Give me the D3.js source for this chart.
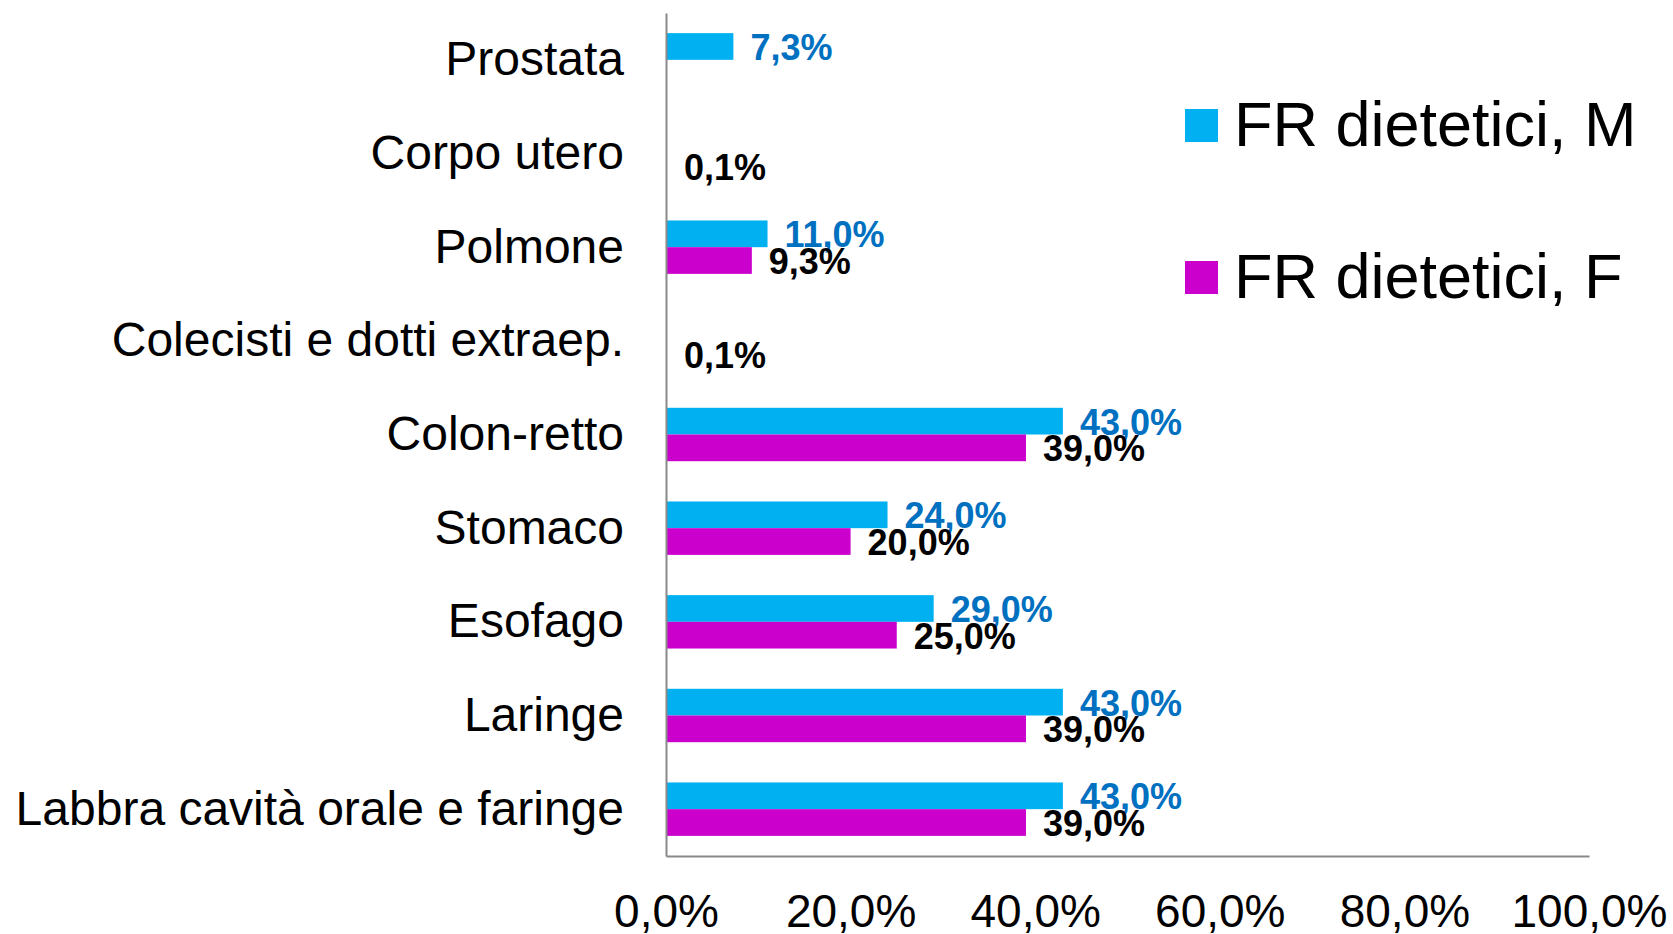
<!DOCTYPE html>
<html>
<head>
<meta charset="utf-8">
<script src="https://cdn.jsdelivr.net/npm/d3@7"></script>
<style>
  body { margin: 0; background: #fff; }
  svg { display: block; font-family: "Liberation Sans", Arial, sans-serif; }
</style>
</head>
<body>
<div id="vis-container"></div>
<script>
// ------------------------------ DATA ------------------------------ //
const categories = [
  "Prostata", "Corpo utero", "Polmone", "Colecisti e dotti extraep.",
  "Colon-retto", "Stomaco", "Esofago", "Laringe", "Labbra cavità orale e faringe"
];
const seriesNames = ["FR dietetici, M", "FR dietetici, F"];
const valuesM = [7.3, null, 11.0, null, 43.0, 24.0, 29.0, 43.0, 43.0];
const valuesF = [null, 0.1, 9.3, 0.1, 39.0, 20.0, 25.0, 39.0, 39.0];
const xTicks = [0, 20, 40, 60, 80, 100];

// ------------------------------ SET UP ------------------------------ //
const width = 1673;
const height = 934;
const margin = { top: 13, right: 84, bottom: 78, left: 666 };
const colors = ["#00B0F0", "#CC00CC"];
const labelColors = ["#0070C0", "#000000"];
const axisColor = "#898989";

const svg = d3.select("#vis-container")
  .append("svg")
  .attr("width", width)
  .attr("height", height);

const fmt = (v) => v.toFixed(1).replace(".", ",") + "%";

// Scales
const xScale = d3.scaleLinear()
  .domain([0, 100])
  .range([margin.left, width - margin.right]);

const yScale = d3.scaleBand()
  .domain(categories)
  .range([margin.top, height - margin.bottom])
  .padding(0);

const barH = 26.7;
const ySub = d3.scaleBand()
  .domain(seriesNames)
  .range([yScale.bandwidth() / 2 - barH, yScale.bandwidth() / 2 + barH]);

// Flatten values into rows (skip missing series)
const rows = [];
categories.forEach((c, i) => {
  [valuesM[i], valuesF[i]].forEach((v, s) => {
    if (v !== null) rows.push({ cat: c, series: seriesNames[s], s: s, value: v });
  });
});

// Bars
svg.append("g")
  .selectAll("rect")
  .data(rows)
  .enter()
  .append("rect")
  .attr("x", xScale(0))
  .attr("y", (d) => yScale(d.cat) + ySub(d.series))
  .attr("width", (d) => xScale(d.value) - xScale(0))
  .attr("height", ySub.bandwidth())
  .attr("fill", (d) => colors[d.s]);

// Data labels
svg.append("g")
  .selectAll("text")
  .data(rows)
  .enter()
  .append("text")
  .attr("x", (d) => xScale(d.value) + 17)
  .attr("y", (d) => yScale(d.cat) + ySub(d.series) + ySub.bandwidth() / 2 + 1)
  .attr("dy", "0.35em")
  .attr("font-size", "36px")
  .attr("font-weight", "bold")
  .attr("fill", (d) => labelColors[d.s])
  .text((d) => fmt(d.value));

// Axes
svg.append("g")
  .attr("transform", `translate(0,${height - margin.bottom})`)
  .call(d3.axisBottom(xScale).tickValues(xTicks).tickSize(0).tickPadding(38).tickFormat(fmt))
  .call((g) => g.select(".domain").attr("stroke", axisColor).attr("stroke-width", 2))
  .selectAll("text")
  .attr("font-size", "46px")
  .attr("fill", "#000");

svg.append("g")
  .attr("transform", `translate(${margin.left},0)`)
  .call(d3.axisLeft(yScale).tickSize(0).tickPadding(42))
  .call((g) => g.select(".domain").attr("stroke", axisColor).attr("stroke-width", 2))
  .selectAll("text")
  .attr("font-size", "48px")
  .attr("fill", "#000");

// Legend
const legend = svg.append("g")
  .selectAll("g")
  .data(seriesNames)
  .enter()
  .append("g")
  .attr("transform", (d, i) => `translate(1185,${109 + i * 152})`);

legend.append("rect")
  .attr("width", 33)
  .attr("height", 33)
  .attr("fill", (d, i) => colors[i]);

legend.append("text")
  .attr("x", 49)
  .attr("y", 37)
  .attr("font-size", "63px")
  .attr("fill", "#000")
  .text((d) => d);
</script>
</body>
</html>
